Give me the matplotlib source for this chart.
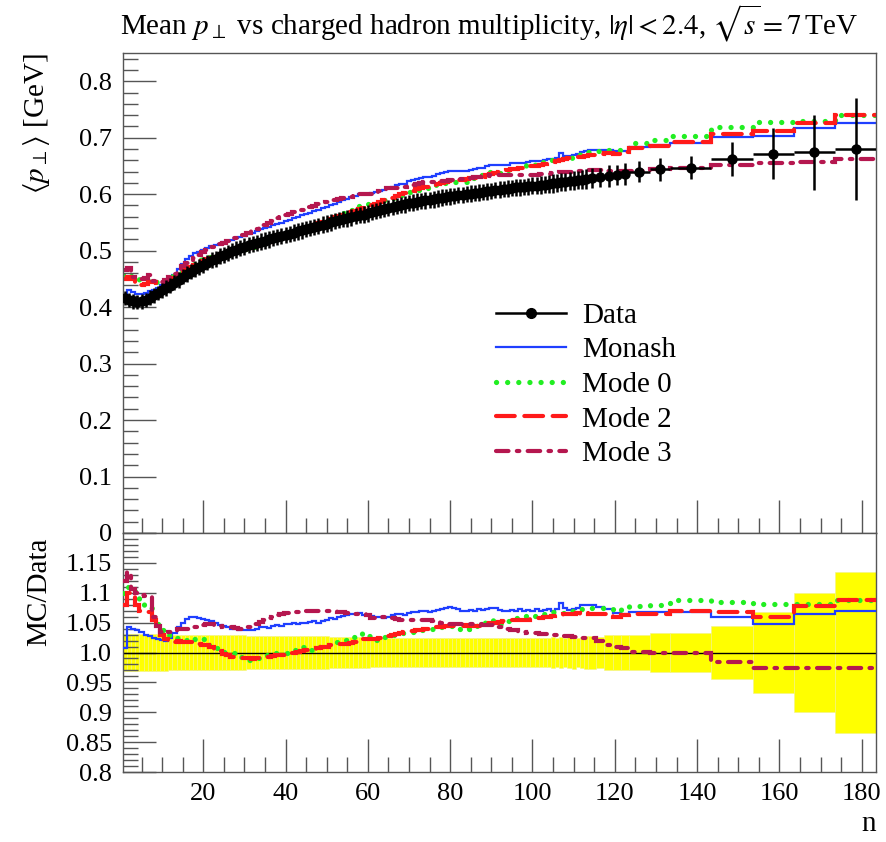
import numpy as np
import matplotlib
matplotlib.use("Agg")
import matplotlib.pyplot as plt
from matplotlib.lines import Line2D
from matplotlib.ticker import MultipleLocator, FuncFormatter

plt.rcParams['font.family'] = ['Liberation Serif', 'DejaVu Serif']
plt.rcParams['mathtext.fontset'] = 'stix'

# bin edges: unit bins up to 113.5, then 2-wide, then wide bins
edges = np.concatenate([np.arange(0.5, 114.0, 1.0),
                        [115.5, 117.5, 119.5, 121.5, 123.5],
                        [128.5, 133.5, 143.5, 153.5, 163.5, 173.5, 183.5]])

data_mean = np.array([
    0.416, 0.413, 0.410, 0.409, 0.410, 0.413, 0.417, 0.421, 0.425, 0.430,
    0.434, 0.438, 0.443, 0.448, 0.454, 0.459, 0.463, 0.467, 0.471, 0.475,
    0.479, 0.483, 0.486, 0.490, 0.493, 0.496, 0.499, 0.502, 0.505, 0.507,
    0.510, 0.512, 0.514, 0.516, 0.518, 0.520, 0.522, 0.524, 0.526, 0.528,
    0.530, 0.532, 0.534, 0.536, 0.538, 0.540, 0.542, 0.544, 0.546, 0.548,
    0.550, 0.552, 0.554, 0.556, 0.557, 0.559, 0.561, 0.563, 0.564, 0.566,
    0.568, 0.570, 0.572, 0.574, 0.576, 0.577, 0.579, 0.581, 0.582, 0.584,
    0.585, 0.587, 0.588, 0.589, 0.590, 0.591, 0.593, 0.594, 0.595, 0.596,
    0.597, 0.598, 0.599, 0.600, 0.601, 0.602, 0.603, 0.604, 0.605, 0.606,
    0.607, 0.608, 0.609, 0.610, 0.611, 0.612, 0.612, 0.613, 0.614, 0.615,
    0.615, 0.616, 0.617, 0.618, 0.619, 0.620, 0.621, 0.622, 0.623, 0.624,
    0.625, 0.626, 0.627,
    0.628, 0.630, 0.632, 0.634, 0.636,
    0.640, 0.644, 0.647, 0.662, 0.672, 0.674, 0.680])

data_relerr = np.array([
    0.031, 0.031, 0.031, 0.031, 0.031, 0.031, 0.031, 0.031, 0.031, 0.031,
    0.031, 0.030, 0.030, 0.030, 0.030, 0.030, 0.030, 0.030, 0.030, 0.030,
    0.029, 0.029, 0.029, 0.029, 0.029, 0.029, 0.029, 0.029, 0.029, 0.029,
    0.028, 0.028, 0.028, 0.028, 0.028, 0.028, 0.028, 0.028, 0.028, 0.028,
    0.027, 0.027, 0.027, 0.027, 0.027, 0.027, 0.027, 0.027, 0.027, 0.027,
    0.026, 0.026, 0.026, 0.026, 0.026, 0.026, 0.026, 0.026, 0.026, 0.026,
    0.025, 0.025, 0.025, 0.025, 0.025, 0.025, 0.025, 0.025, 0.025, 0.025,
    0.025, 0.025, 0.025, 0.025, 0.025, 0.025, 0.025, 0.025, 0.025, 0.025,
    0.024, 0.024, 0.024, 0.024, 0.024, 0.024, 0.024, 0.024, 0.024, 0.024,
    0.024, 0.024, 0.024, 0.024, 0.024, 0.024, 0.024, 0.024, 0.024, 0.024,
    0.025, 0.025, 0.025, 0.025, 0.026, 0.025, 0.026, 0.025, 0.026, 0.027,
    0.025, 0.026, 0.027,
    0.028, 0.026, 0.030, 0.029, 0.030,
    0.030, 0.032, 0.032, 0.045, 0.068, 0.099, 0.134])

# MC / Data ratios per bin
ratio_monash = np.array([
    1.007, 1.042, 1.040, 1.037, 1.034, 1.030, 1.027, 1.024, 1.022, 1.021,
    1.020, 1.024, 1.033, 1.042, 1.050, 1.056, 1.059, 1.060, 1.058, 1.056,
    1.055, 1.052, 1.049, 1.046, 1.044, 1.042, 1.040, 1.039, 1.038, 1.037,
    1.038, 1.037, 1.040, 1.042, 1.043, 1.041, 1.044, 1.046, 1.045, 1.048,
    1.047, 1.049, 1.048, 1.050, 1.049, 1.051, 1.052, 1.050, 1.053, 1.055,
    1.057, 1.056, 1.059, 1.061, 1.063, 1.065, 1.064, 1.066, 1.063, 1.062,
    1.061, 1.060, 1.059, 1.058, 1.060, 1.062, 1.064, 1.065, 1.063, 1.066,
    1.068, 1.067, 1.069, 1.070, 1.068, 1.070, 1.071, 1.073, 1.075, 1.076,
    1.074, 1.072, 1.070, 1.069, 1.071, 1.070, 1.072, 1.071, 1.073, 1.075,
    1.075, 1.071, 1.070, 1.069, 1.071, 1.070, 1.072, 1.069, 1.071, 1.070,
    1.072, 1.070, 1.071, 1.073, 1.070, 1.072, 1.083, 1.074, 1.071, 1.072,
    1.075, 1.079, 1.080,
    1.080, 1.076, 1.072, 1.066, 1.065,
    1.067, 1.068, 1.068, 1.059, 1.047, 1.065, 1.069])

ratio_mode0 = np.array([
    1.100, 1.110, 1.108, 1.098, 1.087, 1.080, 1.074, 1.060, 1.047, 1.038,
    1.033, 1.029, 1.026, 1.024, 1.022, 1.021, 1.020, 1.022, 1.024, 1.022,
    1.017, 1.012, 1.008, 1.004, 1.001, 0.999, 1.000, 1.000, 0.993, 0.988,
    0.987, 0.990, 0.991, 0.992, 0.993, 0.995, 0.998, 1.000, 1.000, 0.999,
    1.001, 1.004, 1.008, 1.009, 1.006, 1.005, 1.007, 1.009, 1.010, 1.012,
    1.014, 1.016, 1.018, 1.020, 1.021, 1.023, 1.026, 1.029, 1.032, 1.028,
    1.022, 1.021, 1.024, 1.026, 1.028, 1.029, 1.030, 1.031, 1.033, 1.034,
    1.035, 1.036, 1.037, 1.038, 1.039, 1.040, 1.041, 1.042, 1.043, 1.044,
    1.042, 1.040, 1.038, 1.037, 1.040, 1.043, 1.046, 1.049, 1.052, 1.054,
    1.050, 1.048, 1.050, 1.053, 1.055, 1.057, 1.059, 1.061, 1.063, 1.062,
    1.061, 1.063, 1.065, 1.066, 1.067, 1.068, 1.068, 1.066, 1.067, 1.069,
    1.071, 1.073, 1.075,
    1.075, 1.074, 1.072, 1.070, 1.073,
    1.078, 1.080, 1.088, 1.085, 1.082, 1.082, 1.088])

ratio_mode2 = np.array([
    1.080, 1.099, 1.095, 1.080, 1.070, 1.069, 1.068, 1.055, 1.043, 1.030,
    1.022, 1.020, 1.018, 1.019, 1.018, 1.017, 1.018, 1.017, 1.015, 1.013,
    1.012, 1.010, 1.006, 1.002, 0.998, 0.995, 0.993, 0.993, 0.992, 0.990,
    0.990, 0.989, 0.990, 0.991, 0.991, 0.992, 0.994, 0.995, 0.995, 0.996,
    0.997, 0.999, 1.001, 1.003, 1.004, 1.005, 1.006, 1.008, 1.009, 1.010,
    1.012, 1.013, 1.014, 1.014, 1.015, 1.016, 1.018, 1.020, 1.022, 1.022,
    1.022, 1.023, 1.025, 1.027, 1.028, 1.029, 1.031, 1.032, 1.034, 1.035,
    1.036, 1.037, 1.038, 1.039, 1.040, 1.041, 1.042, 1.043, 1.044, 1.045,
    1.045, 1.044, 1.045, 1.046, 1.045, 1.044, 1.045, 1.045, 1.047, 1.049,
    1.050, 1.051, 1.052, 1.053, 1.054, 1.054, 1.055, 1.054, 1.055, 1.056,
    1.057, 1.058, 1.059, 1.060, 1.061, 1.062, 1.063, 1.064, 1.065, 1.065,
    1.066, 1.065, 1.066,
    1.065, 1.064, 1.065, 1.059, 1.062,
    1.065, 1.065, 1.070, 1.068, 1.060, 1.077, 1.088])

ratio_mode3 = np.array([
    1.120, 1.135, 1.107, 1.100, 1.096, 1.095, 1.094, 1.060, 1.045, 1.035,
    1.033, 1.034, 1.036, 1.039, 1.040, 1.040, 1.040, 1.042, 1.044, 1.046,
    1.047, 1.048, 1.046, 1.044, 1.043, 1.043, 1.042, 1.041, 1.040, 1.041,
    1.043, 1.045, 1.048, 1.051, 1.054, 1.057, 1.060, 1.063, 1.065, 1.066,
    1.066, 1.067, 1.068, 1.068, 1.069, 1.069, 1.070, 1.070, 1.070, 1.070,
    1.070, 1.069, 1.068, 1.067, 1.066, 1.066, 1.065, 1.065, 1.065, 1.062,
    1.057, 1.058, 1.059, 1.060, 1.060, 1.058, 1.056, 1.055, 1.054, 1.054,
    1.054, 1.054, 1.054, 1.054, 1.054, 1.053, 1.052, 1.050, 1.049, 1.048,
    1.048, 1.048, 1.048, 1.048, 1.047, 1.047, 1.047, 1.046, 1.046, 1.046,
    1.045, 1.043, 1.041, 1.039, 1.038, 1.037, 1.035, 1.034, 1.033, 1.032,
    1.032, 1.031, 1.031, 1.030, 1.030, 1.029, 1.029, 1.028, 1.027, 1.026,
    1.025, 1.024, 1.024,
    1.024, 1.020, 1.013, 1.010, 1.007,
    1.001, 1.000, 1.000, 0.984, 0.974, 0.974, 0.974])

centers = 0.5 * (edges[:-1] + edges[1:])
halfw = 0.5 * np.diff(edges)
data_err = data_mean * data_relerr

mc = [
    ("Monash", ratio_monash, dict(color="#1f3fff", lw=1.6, ls="-")),
    ("Mode 0", ratio_mode0, dict(color="#22ee22", lw=3.8, ls=(0, (0.01, 2.1)))),
    ("Mode 2", ratio_mode2, dict(color="#ff1a1a", lw=3.0, ls=(0, (4.5, 2.3)))),
    ("Mode 3", ratio_mode3, dict(color="#b5174f", lw=3.0, ls=(0, (3.0, 2.0, 0.6, 2.0)))),
]

fig = plt.figure(figsize=(8.87, 8.42), dpi=100)
ax = fig.add_axes([0.1387, 0.367, 0.849, 0.570])
rax = fig.add_axes([0.1387, 0.0831, 0.849, 0.2839], sharex=ax)

for name, r, st in mc:
    s = ax.stairs(r * data_mean, edges, baseline=None, label=name, **st)
    s.set_capstyle("round")
ax.errorbar(centers, data_mean, xerr=halfw, yerr=data_err, fmt="o", color="black",
            ms=6.5, elinewidth=1.8, capsize=0, zorder=5)

# ratio panel
rax.bar(centers, 2 * data_relerr, width=2 * halfw, bottom=1 - data_relerr,
        color="#ffff00", edgecolor="#f2f28a", linewidth=0.4, zorder=1)
rax.axhline(1.0, color="black", lw=1.0, zorder=2)
for name, r, st in mc:
    s = rax.stairs(r, edges, baseline=None, zorder=3, **st)
    s.set_capstyle("round")

ax.set_xlim(edges[0], edges[-1])
ax.set_ylim(0, 0.85)
rax.set_ylim(0.8, 1.2)

for a in (ax, rax):
    a.tick_params(which="both", direction="in", top=False, right=False,
                  labelsize=19, color="#555555", pad=8)
    a.tick_params(which="major", length=24, width=1.0)
    a.tick_params(which="minor", length=11, width=1.0)
    for s in a.spines.values():
        s.set_color("#555555")
        s.set_linewidth(1.0)

ax.yaxis.set_major_locator(MultipleLocator(0.1))
ax.yaxis.set_minor_locator(MultipleLocator(0.02))
ax.xaxis.set_major_locator(MultipleLocator(20))
ax.xaxis.set_minor_locator(MultipleLocator(5))
ax.tick_params(labelbottom=False)
ax.yaxis.set_major_formatter(FuncFormatter(lambda v, p: "0" if abs(v) < 1e-9 else f"{v:.1f}"))

rax.yaxis.set_major_locator(MultipleLocator(0.05))
rax.yaxis.set_minor_locator(MultipleLocator(0.01))


def rfmt(v, p):
    if v > 1.19:
        return ""
    s = f"{v:.2f}"
    if s.endswith("0"):
        s = s[:-1]
    return s


rax.yaxis.set_major_formatter(FuncFormatter(rfmt))
rax.xaxis.set_major_formatter(FuncFormatter(lambda v, p: f"{v:.0f}"))

fig.text(0.968, 0.972, r"Mean $p_\perp$ vs charged hadron multiplicity, $|\eta| < 2.4$, $\sqrt{s} = 7\,$TeV",
         ha="right", va="center", fontsize=21)

ax.set_ylabel(r"$\langle p_\perp \rangle$ [GeV]", fontsize=21, loc="top")
ax.yaxis.set_label_coords(-0.094, 1.0)
rax.set_ylabel("MC/Data", fontsize=21, loc="top")
rax.yaxis.set_label_coords(-0.094, 0.98)
rax.set_xlabel("n", fontsize=21, loc="right")

handles = [Line2D([0], [0], color="black", lw=1.8, marker="o", ms=7)]
labels = ["Data"]
for name, r, st in mc:
    handles.append(Line2D([0], [0], dash_capstyle="round", **st))
    labels.append(name)
ax.legend(handles, labels, loc="upper left", bbox_to_anchor=(0.46, 0.535),
          frameon=False, fontsize=21, handlelength=2.4, labelspacing=0.28,
          handletextpad=0.55)

fig.savefig("out.png", dpi=100)
